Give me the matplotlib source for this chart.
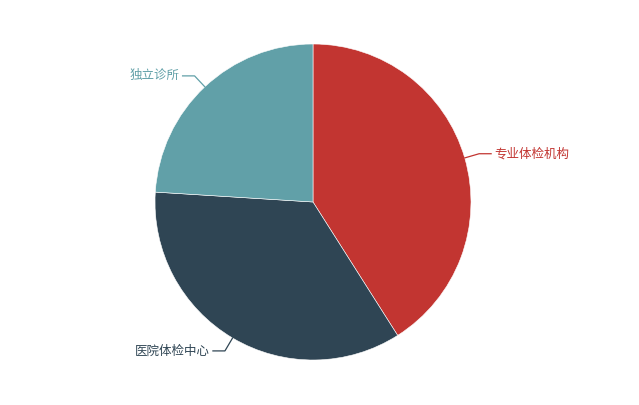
import matplotlib
matplotlib.use("Agg")
import matplotlib.pyplot as plt
import numpy as np

plt.rcParams['font.family'] = ['Noto Sans CJK SC', 'DejaVu Sans']

# slice data, clockwise from 12 o'clock
labels = ['专业体检机构', '医院体检中心', '独立诊所']
values = [41, 35, 24]
colors = ['#c23531', '#2f4554', '#61a0a8']

cx, cy, r = 313, 202, 158

fig = plt.figure(figsize=(6.39, 4.05), dpi=100)
ax = fig.add_axes([0, 0, 1, 1])

# y axis is flipped, so counterclock in data = clockwise on screen
wedges, _ = ax.pie(values, colors=colors, startangle=-90, counterclock=True,
                   center=(cx, cy), radius=r, frame=True,
                   wedgeprops=dict(edgecolor='white', linewidth=0.4))
ax.set_xlim(0, 639)
ax.set_ylim(405, 0)
ax.set_aspect('equal')
ax.axis('off')

# leader lines + labels
for w, lab, col in zip(wedges, labels, colors):
    mid = np.deg2rad((w.theta1 + w.theta2) / 2)
    dx, dy = np.cos(mid), np.sin(mid)
    x0, y0 = cx + r * dx, cy + r * dy
    x1, y1 = cx + (r + 15) * dx, cy + (r + 15) * dy
    side = 1 if dx >= 0 else -1
    x2 = x1 + side * 12
    ax.plot([x0, x1, x2], [y0, y1, y1], color=col, lw=0.9)
    ax.text(x2 + side * 3, y1, lab, color=col, fontsize=9,
            ha='left' if side > 0 else 'right', va='center')

fig.savefig('out.png', dpi=100)
